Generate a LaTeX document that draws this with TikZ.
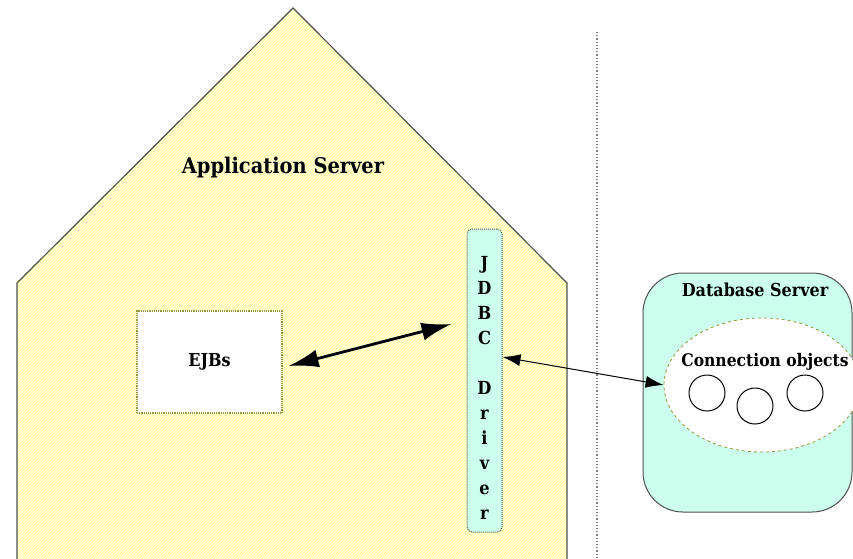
\documentclass[tikz,border=0pt]{standalone}
\usepackage{fontspec}
\setmainfont{DejaVu Serif Condensed}
\usetikzlibrary{arrows.meta,shapes.geometric,patterns}
\definecolor{houseyellow}{RGB}{255,255,168}
\definecolor{mint}{RGB}{204,255,238}
\definecolor{olive}{RGB}{150,150,60}
\definecolor{edge}{RGB}{80,80,80}
\tikzset{
  lbl/.style={font=\bfseries\fontsize{17.8}{20}\selectfont, inner sep=0pt},
  biglbl/.style={font=\bfseries\fontsize{21.6}{24}\selectfont, inner sep=0pt},
  ejbbox/.style={draw=olive, densely dotted, fill=white, line width=1.2pt, minimum width=145pt, minimum height=102pt, inner sep=0pt},
  drvbox/.style={draw=edge, densely dotted, fill=mint, rounded corners=5pt, line width=1pt, minimum width=35pt, minimum height=303pt, inner sep=0pt},
  dbbox/.style={draw=edge, fill=mint, rounded corners=40pt, line width=1pt, minimum width=209pt, minimum height=239pt, inner sep=0pt},
  connell/.style={ellipse, draw=olive, dashed, fill=white, line width=0.8pt, minimum width=196pt, minimum height=134pt, inner sep=0pt},
  connobj/.style={circle, draw=black, line width=1pt, minimum size=36pt, inner sep=0pt},
  thickarrow/.style={{Latex[length=30pt,width=18pt]}-{Latex[length=30pt,width=18pt]}, line width=2.8pt},
  thinarrow/.style={{Latex[length=18pt,width=12pt]}-{Latex[length=18pt,width=12pt]}, line width=1pt},
}
\begin{document}
\begin{tikzpicture}[x=1pt,y=-1pt]
\useasboundingbox (0,0) rectangle (853,558);
\clip (0,0) rectangle (853,558);
% application server house
\fill[houseyellow] (17,570) -- (17,283) -- (293,8) -- (567,283) -- (567,570) -- cycle;
\fill[pattern=north east lines, pattern color=white] (17,570) -- (17,283) -- (293,8) -- (567,283) -- (567,570) -- cycle;
\draw[draw=edge, line width=1.2pt]
  (17,570) -- (17,283) -- (293,8) -- (567,283) -- (567,570);
\node[biglbl] (appsrv) at (283,168) {Application Server};
% separator
\draw[gray, dotted, line width=1.2pt] (597,32) -- (597,570);
% EJBs
\node[ejbbox] (ejbs) at (209.5,362) {};
\node[lbl] (ejbtxt) at (209.5,362) {EJBs};
% JDBC driver
\node[drvbox] (jdbc) at (484.5,380.5) {};
\node[lbl, align=center, font=\bfseries\fontsize{18}{25}\selectfont] (jdbctxt) at (484.5,388)
  {J\\D\\B\\C\\[25pt]D\\r\\i\\v\\e\\r};
% database server
\node[dbbox] (db) at (747.5,392.5) {};
\node[lbl] (dbtxt) at (755,290) {Database Server};
\node[connell] (conn) at (762,385) {};
\node[lbl, font=\bfseries\fontsize{17.3}{20}\selectfont] (conntxt) at (765,362) {Connection objects};
\node[connobj] (c1) at (707,393) {};
\node[connobj] (c2) at (755,406) {};
\node[connobj] (c3) at (805,393) {};
% connectors
\draw[thickarrow] ([xshift=6pt,yshift=-4pt]ejbs.east) -- ([xshift=-15pt,yshift=56.5pt]jdbc.west);
\draw[thinarrow] ([yshift=23.5pt]jdbc.east) -- (conn.west);
\end{tikzpicture}
\end{document}
